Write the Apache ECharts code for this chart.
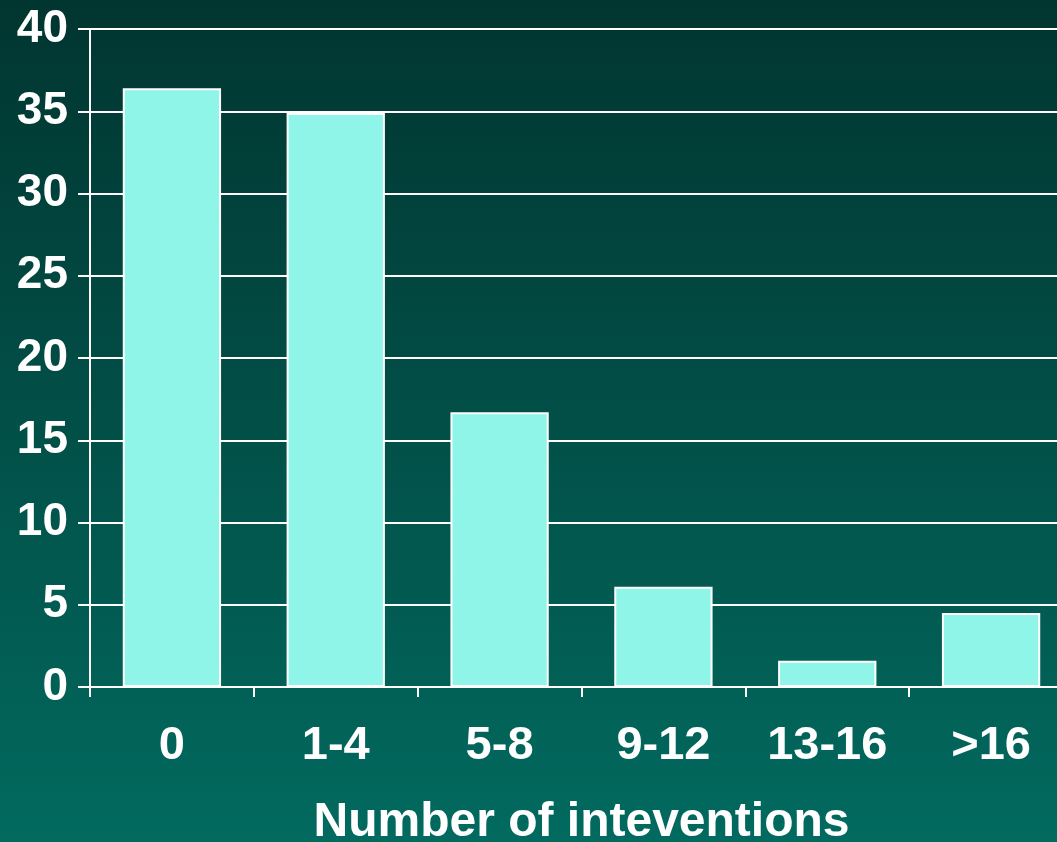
<!DOCTYPE html>
<html>
<head>
<meta charset="utf-8">
<script src="https://cdn.jsdelivr.net/npm/echarts@6/dist/echarts.min.js"></script>
<style>
  html, body { margin: 0; padding: 0; }
  #chart { width: 1057px; height: 842px; }
</style>
</head>
<body>
<div id="chart"></div>
<script>
const categories = ['0', '1-4', '5-8', '9-12', '13-16', '>16'];
const values = [36.4, 34.9, 16.7, 6.1, 1.6, 4.5];
const yTicks = { min: 0, max: 40, interval: 5 };

const chart = echarts.init(document.getElementById('chart'));

const labelFont = {
  color: '#ffffff',
  fontFamily: 'Liberation Sans, Arial, sans-serif',
  fontWeight: 'bold',
};

chart.setOption({
  backgroundColor: new echarts.graphic.LinearGradient(0, 0, 0, 1, [
    { offset: 0, color: '#013530' },
    { offset: 1, color: '#026a5f' },
  ]),
  animation: false,
  grid: {
    left: 90, top: 29, right: -16, bottom: 155,
    containLabel: false, outerBoundsMode: 'none',
  },
  xAxis: {
    type: 'category',
    data: categories,
    axisLine: { lineStyle: { color: '#ffffff', width: 2 } },
    axisTick: { show: true, length: 10, lineStyle: { color: '#ffffff', width: 2 } },
    axisLabel: { ...labelFont, fontSize: 47, margin: 36 },
    name: 'Number of inteventions',
    nameLocation: 'middle',
    nameGap: 112,
    nameTextStyle: { ...labelFont, fontSize: 48 },
  },
  yAxis: {
    type: 'value',
    min: yTicks.min,
    max: yTicks.max,
    interval: yTicks.interval,
    axisLine: { show: true, lineStyle: { color: '#ffffff', width: 2 } },
    axisTick: { show: true, length: 12, lineStyle: { color: '#ffffff', width: 2 } },
    axisLabel: { ...labelFont, fontSize: 46, margin: 22 },
    splitLine: { lineStyle: { color: '#ffffff', width: 2 } },
  },
  series: [
    {
      type: 'bar',
      data: values,
      barCategoryGap: '40%',
      itemStyle: { color: '#8ef5e8', borderColor: '#ffffff', borderWidth: 2 },
    },
  ],
});
</script>
</body>
</html>
